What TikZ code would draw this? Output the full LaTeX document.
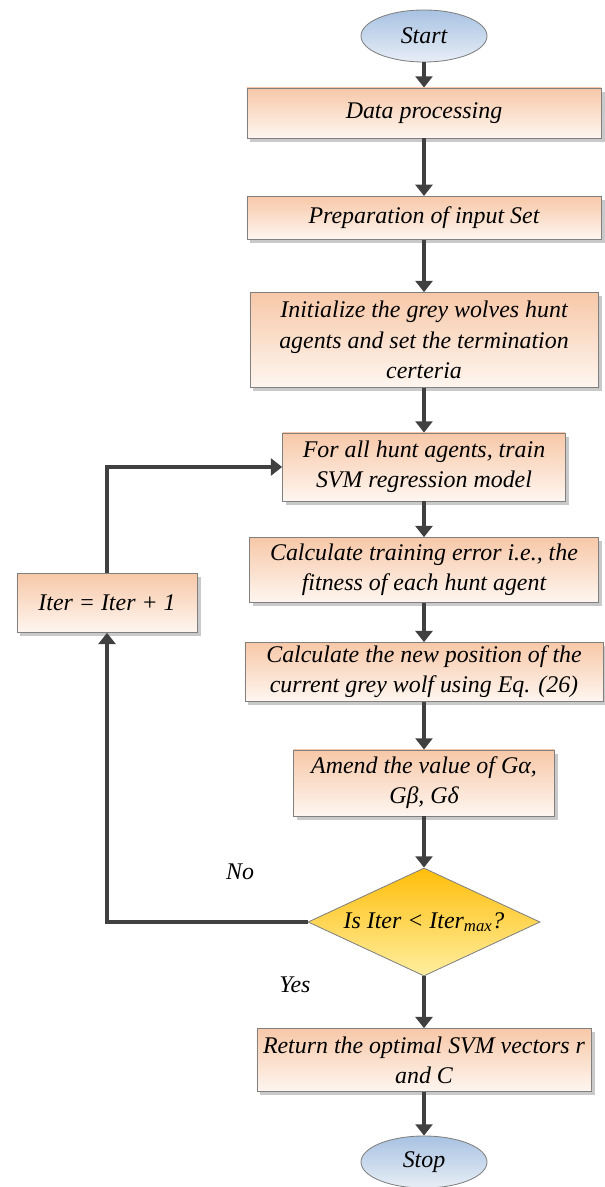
\documentclass[tikz,border=0pt]{standalone}
\usepackage{fontspec}
\setmainfont{Liberation Serif}
\usetikzlibrary{shapes.geometric,arrows.meta,shadows}
\definecolor{boxtop}{RGB}{247,200,168}
\definecolor{boxbot}{RGB}{254,246,240}
\definecolor{ovaltop}{RGB}{168,194,226}
\definecolor{ovalbot}{RGB}{232,238,246}
\definecolor{dectop}{RGB}{255,190,10}
\definecolor{decbot}{RGB}{255,238,160}
\definecolor{linegray}{RGB}{64,64,64}
\definecolor{edgegray}{RGB}{128,128,128}

\tikzset{
    every node/.style={font=\fontsize{17}{21.5}\selectfont\itshape},
    procbox/.style={draw=edgegray, line width=0.6pt, top color=boxtop, bottom color=boxbot,
        align=center, inner sep=2pt,
        drop shadow={shadow xshift=2.5pt, shadow yshift=-2.5pt, fill=gray!60, opacity=0.7}},
    terminal/.style={ellipse, draw=edgegray, line width=0.6pt, top color=ovaltop, bottom color=ovalbot,
        minimum width=3.15cm, minimum height=1.3cm, inner sep=0pt},
    decision/.style={diamond, aspect=2.15, draw=edgegray, line width=0.6pt, top color=dectop, bottom color=decbot,
        minimum width=5.8cm, minimum height=2.7cm, inner sep=0pt},
    flow/.style={draw=linegray, line width=2.4pt, -{Triangle[length=8pt,width=12pt]}}
}

\begin{document}
\begin{tikzpicture}[x=0.025cm, y=-0.025cm]
        \useasboundingbox (0,0) rectangle (604,1187);
        % Main column
        \node[terminal] (start) at (424,36) {Start};
        \node[procbox, minimum width=8.85cm, minimum height=1.25cm] (data) at (424,113) {Data processing};
        \node[procbox, minimum width=8.85cm, minimum height=1.08cm] (prep) at (424,218) {Preparation of input Set};
        \node[procbox, minimum width=8.7cm, minimum height=2.37cm] (init) at (424,340)
            {Initialize the grey wolves hunt\\agents and set the termination\\certeria};
        \node[procbox, minimum width=7.07cm, minimum height=1.7cm] (train) at (424,467)
            {For all hunt agents, train\\SVM regression model};
        \node[procbox, minimum width=8.72cm, minimum height=1.62cm] (err) at (424,570)
            {Calculate training error i.e., the\\fitness of each hunt agent};
        \node[procbox, minimum width=8.95cm, minimum height=1.47cm] (pos) at (424,672)
            {Calculate the new position of the\\current grey wolf using Eq. (26)};
        \node[procbox, minimum width=6.52cm, minimum height=1.65cm] (amend) at (424,783)
            {Amend the value of Gα,\\Gβ, Gδ};
        \node[decision] (dec) at (424,922) {Is Iter < Iter\textsubscript{max}?};
        \node[procbox, minimum width=8.35cm, minimum height=1.57cm] (ret) at (424,1060)
            {Return the optimal SVM vectors r\\and C};
        \node[terminal] (stop) at (424,1162) {Stop};
        % Loop back
        \node[procbox, minimum width=4.5cm, minimum height=1.47cm] (iter) at (107,603) {Iter = Iter + 1};
        \node (no) at (240,872) {No};
        \node (yes) at (295,985) {Yes};
        % Connectors
        \draw[flow] (start) -- (data);
        \draw[flow] (data) -- (prep);
        \draw[flow] (prep) -- (init);
        \draw[flow] (init) -- (train);
        \draw[flow] (train) -- (err);
        \draw[flow] (err) -- (pos);
        \draw[flow] (pos) -- (amend);
        \draw[flow] (amend) -- (dec);
        \draw[flow] (dec) -- (ret);
        \draw[flow] (ret) -- (stop);
        \draw[flow] (dec.west) -| (iter.south);
        \draw[flow] (iter.north) |- (train.west);
    \end{tikzpicture}
\end{document}
